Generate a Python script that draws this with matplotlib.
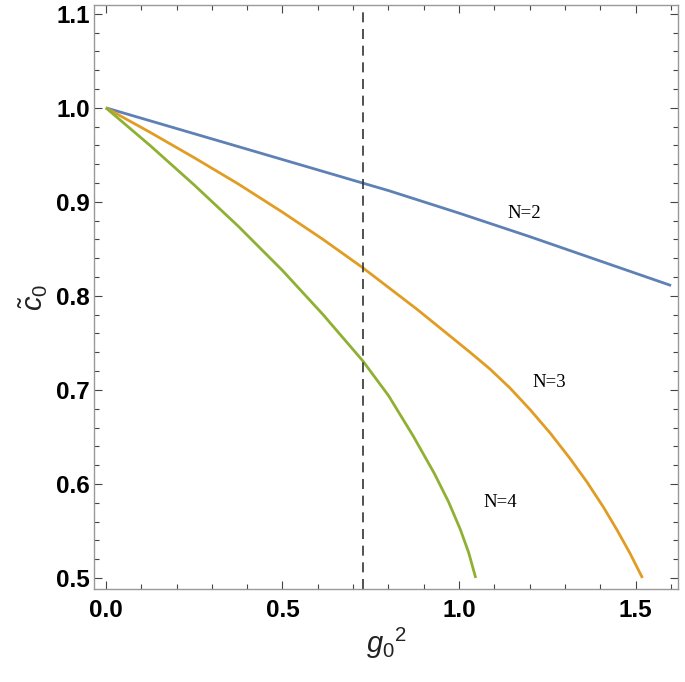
import numpy as np
import matplotlib.pyplot as plt
from matplotlib.ticker import MultipleLocator

plt.rcParams['mathtext.fontset'] = 'custom'
plt.rcParams['mathtext.rm'] = 'Liberation Sans'
plt.rcParams['mathtext.it'] = 'Liberation Sans:italic'

# values
x_n2 = [0.0, 0.2, 0.4, 0.6, 0.727, 0.8, 1.0, 1.2, 1.4, 1.6]
y_n2 = [1.0, 0.978, 0.956, 0.934, 0.920, 0.912, 0.888, 0.863, 0.837, 0.811]

x_n3 = [0.0, 0.125, 0.25, 0.375, 0.5, 0.615, 0.727, 0.88, 1.031, 1.088,
        1.144, 1.201, 1.258, 1.314, 1.362, 1.409, 1.447, 1.484, 1.519]
y_n3 = [1.0, 0.974, 0.947, 0.919, 0.889, 0.860, 0.830, 0.786, 0.740, 0.722,
        0.702, 0.679, 0.654, 0.627, 0.602, 0.575, 0.551, 0.526, 0.500]

x_n4 = [0.0, 0.125, 0.25, 0.375, 0.5, 0.615, 0.727, 0.8, 0.87, 0.93,
        0.97, 1.003, 1.027, 1.047]
y_n4 = [1.0, 0.960, 0.918, 0.874, 0.827, 0.780, 0.731, 0.694, 0.651, 0.611,
        0.581, 0.552, 0.527, 0.500]

x_cut = 0.727
labels = ["N=2", "N=3", "N=4"]
label_pos = [(1.185, 0.888), (1.255, 0.708), (1.116, 0.580)]

colors = ["#5E81B5", "#E19C24", "#8FB032"]

fig = plt.figure(figsize=(6.85, 6.82), dpi=100)
ax = fig.add_axes([0.137, 0.136, 0.853, 0.857])

for xs, ys, c in zip([x_n2, x_n3, x_n4], [y_n2, y_n3, y_n4], colors):
    ax.plot(xs, ys, color=c, lw=2.0, solid_capstyle='butt',
            solid_joinstyle='round')

ax.axvline(x_cut, color='#333333', lw=1.2, dashes=(6, 4))

for t, (lx, ly) in zip(labels, label_pos):
    ax.text(lx, ly, t, family='Liberation Serif', fontsize=13.5,
            ha='center', va='center')

ax.set_xlim(-0.034, 1.62)
ax.set_ylim(0.488, 1.1096)
ax.xaxis.set_minor_locator(MultipleLocator(0.1))
ax.yaxis.set_minor_locator(MultipleLocator(0.02))
ax.set_xticks([0, 0.5, 1.0, 1.5])
ax.set_xticklabels(["0.0", "0.5", "1.0", "1.5"])
ax.set_yticks([0.5, 0.6, 0.7, 0.8, 0.9, 1.0, 1.1])
ax.set_yticklabels(["0.5", "0.6", "0.7", "0.8", "0.9", "1.0", "1.1"])

ax.tick_params(which='both', direction='in', top=True, right=True,
               color='#444444', width=0.8)
ax.tick_params(which='major', length=6)
ax.tick_params(which='minor', length=3.5)
ax.tick_params(axis='x', pad=7)
ax.tick_params(axis='y', pad=3)
for lab in ax.get_xticklabels() + ax.get_yticklabels():
    lab.set_family('Liberation Sans')
    lab.set_fontweight('bold')
    lab.set_fontsize(17.5)

for sp in ax.spines.values():
    sp.set_color('#999999')
    sp.set_linewidth(1.0)

ax.set_xlabel(r'$g_0{}^2$', fontsize=21, color='#222222', labelpad=3)
ax.set_ylabel(r'$\tilde{c}_0$', fontsize=21, color='#222222', labelpad=4)

fig.savefig("out.png", dpi=100)
